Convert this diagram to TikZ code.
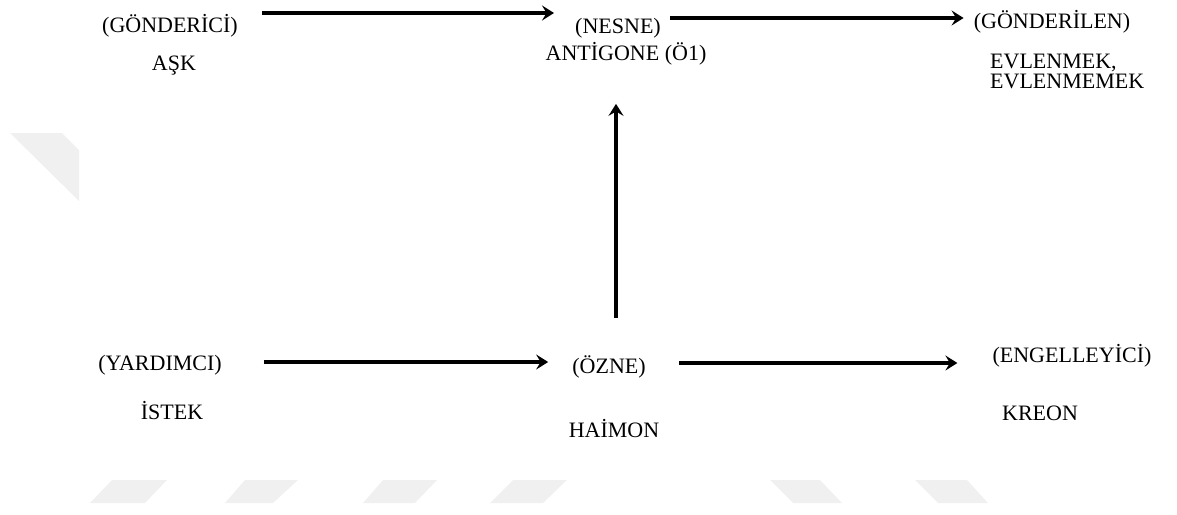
\documentclass[tikz,border=0pt]{standalone}
\usepackage{fontspec}
\setmainfont{Liberation Serif}
\usetikzlibrary{arrows.meta}
\begin{document}
\begin{tikzpicture}[x=1pt,y=-1pt,
  lbl/.style={font=\fontsize{22}{20}\selectfont, inner sep=0pt, anchor=base},
  arr/.style={line width=3.2pt, -{Stealth[length=12pt,width=15pt,inset=4.5pt]}},
  wm/.style={fill=black!6, draw=none}]
\useasboundingbox (0,0) rectangle (1177,514);
% watermark shapes
\fill[wm] (10,133) -- (62,133) -- (79,150) -- (79,201) -- cycle;
\fill[wm] (112,480) -- (167,480) -- (145,503) -- (90,503) -- cycle;
\fill[wm] (245,480) -- (298,480) -- (273,503) -- (225,503) -- cycle;
\fill[wm] (383,480) -- (437,480) -- (415,503) -- (363,503) -- cycle;
\fill[wm] (513,480) -- (567,480) -- (543,503) -- (490,503) -- cycle;
\fill[wm] (770,480) -- (820,480) -- (842,503) -- (793,503) -- cycle;
\fill[wm] (915,480) -- (967,480) -- (988,503) -- (938,503) -- cycle;
% labels
\node[lbl] (gon) at (170,32) {(GÖNDERİCİ)};
\node[lbl] (ask) at (174,70) {AŞK};
\node[lbl] (nes) at (618,33) {(NESNE)};
\node[lbl] (ant) at (626,60) {ANTİGONE (Ö1)};
\node[lbl] (gdl) at (1052,28) {(GÖNDERİLEN)};
\node[lbl, anchor=base west, align=left] (evl) at (990,88) {EVLENMEK,\\EVLENMEMEK};
\node[lbl] (yar) at (160,370) {(YARDIMCI)};
\node[lbl] (ist) at (172,419) {İSTEK};
\node[lbl] (ozn) at (609,373) {(ÖZNE)};
\node[lbl] (hai) at (614,437) {HAİMON};
\node[lbl] (eng) at (1072,362) {(ENGELLEYİCİ)};
\node[lbl] (kre) at (1040,420) {KREON};
% connectors
\draw[arr] ([xshift=24pt]gon.east |- 0,13) -- ([xshift=-21pt]nes.west |- 0,13);
\draw[arr] ([xshift=9pt]nes.east |- 0,18) -- ([xshift=-10pt]gdl.west |- 0,18);
\draw[arr] ([xshift=42pt]yar.east |- 0,362) -- ([xshift=-24pt]ozn.west |- 0,362);
\draw[arr] ([xshift=33pt]ozn.east |- 0,363) -- ([xshift=-35pt]eng.west |- 0,363);
\draw[arr] ([xshift=-10pt,yshift=37pt]ozn.north -| ant.south) -- ([xshift=-10pt,yshift=-39pt]ant.south);
\end{tikzpicture}
\end{document}
